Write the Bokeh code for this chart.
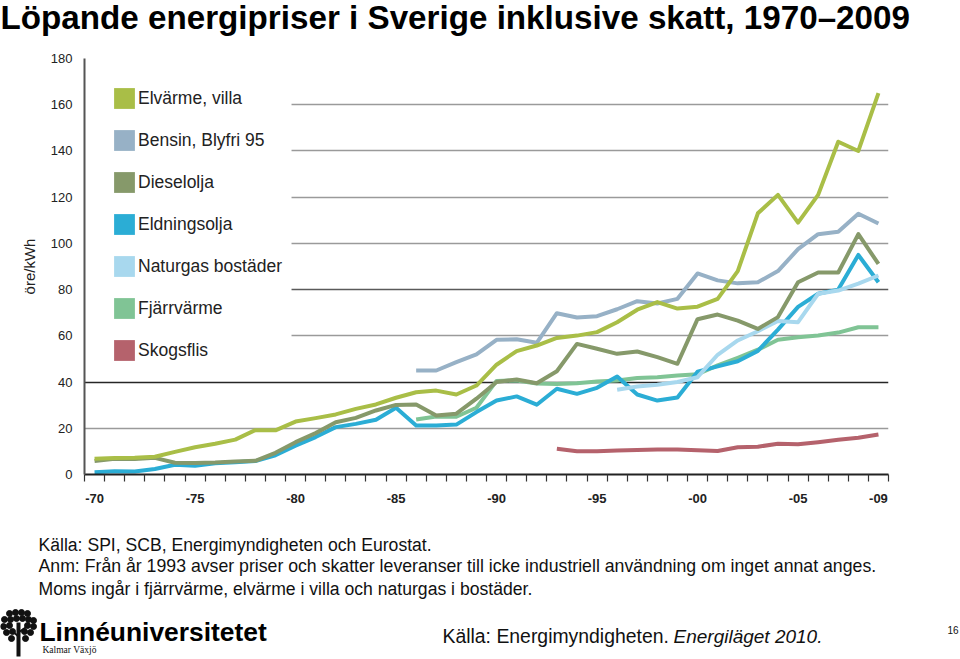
from bokeh.plotting import figure
from bokeh.layouts import column
from bokeh.models import Range1d, FixedTicker, Grid, Legend, LegendItem, BoxAnnotation
from bokeh.core.properties import value
from bokeh.embed import file_html
from bokeh.resources import INLINE

N = None
years = list(range(1970, 2010))

elvarme = [6.8, 7.1, 7.2, 7.7, 9.8, 11.8, 13.3, 15.1, 19.2, 19.1,
           22.9, 24.4, 26.0, 28.4, 30.3, 33.2, 35.6, 36.3, 34.6, 38.5,
           47.5, 53.4, 55.8, 59.1, 60.1, 61.6, 65.9, 71.3, 74.6, 71.8,
           72.6, 76.0, 88.0, 113.0, 121.0, 109.0, 121.0, 144.0, 140.0, 165.0]
bensin = [N] * 16 + [45.0, 45.0, 48.6, 52.0,
          58.3, 58.5, 57.0, 69.8, 67.9, 68.5, 71.5, 75.0, 74.0, 76.0,
          87.0, 84.0, 82.7, 83.2, 88.0, 97.5, 104.0, 105.0, 112.8, 108.6]
diesel = [5.8, 6.8, 6.7, 7.2, 5.1, 5.0, 5.2, 5.6, 5.9, 9.4,
          14.0, 17.9, 22.6, 24.5, 27.7, 30.1, 30.3, 25.5, 26.3, 32.8,
          40.0, 41.1, 39.5, 44.7, 56.5, 54.4, 52.2, 53.2, 50.8, 47.9,
          67.2, 69.2, 66.6, 63.0, 68.1, 83.2, 87.4, 87.4, 104.0, 91.1]
eldningsolja = [1.0, 1.4, 1.3, 2.4, 4.2, 3.8, 4.9, 5.3, 5.8, 8.3,
                12.5, 16.2, 20.5, 21.9, 23.7, 28.9, 21.2, 21.2, 21.6, 27.0,
                32.0, 33.8, 30.2, 37.1, 34.9, 37.5, 42.4, 34.6, 32.0, 33.3,
                44.5, 46.8, 49.0, 53.5, 62.7, 72.5, 78.2, 80.0, 95.0, 83.2]
naturgas = [N] * 26 + [36.7, 38.1, 38.8, 40.0,
            42.1, 51.8, 58.0, 62.0, 66.4, 65.9, 78.2, 79.6, 82.6, 86.1]
fjarrvarme = [N] * 16 + [23.8, 25.1, 25.0, 28.9,
              40.5, 40.7, 39.4, 39.2, 39.5, 40.2, 40.7, 41.8, 42.1, 42.8,
              43.4, 47.2, 50.5, 54.0, 58.3, 59.4, 60.1, 61.4, 63.7, 63.7]
skogsflis = [N] * 23 + [11.1, 10.1, 10.1, 10.4, 10.6, 10.8, 10.8,
             10.5, 10.2, 11.8, 12.0, 13.3, 13.1, 14.0, 15.0, 15.9, 17.3]

names = ["Elvärme, villa", "Bensin, Blyfri 95", "Dieselolja", "Eldningsolja",
         "Naturgas bostäder", "Fjärrvärme", "Skogsflis"]
series = [elvarme, bensin, diesel, eldningsolja, naturgas, fjarrvarme, skogsflis]
colors = ["#a9be47", "#97b1c6", "#86996a", "#2badd5", "#a8d8ee", "#80c495", "#b5626c"]

tick_years = [1970, 1975, 1980, 1985, 1990, 1995, 2000, 2005, 2009]
tick_labels = ["-70", "-75", "-80", "-85", "-90", "-95", "-00", "-05", "-09"]
y_ticks = [0, 20, 40, 60, 80, 100, 120, 140, 160, 180]

title_text = "Löpande energipriser i Sverige inklusive skatt, 1970–2009"
notes = ["Källa: SPI, SCB, Energimyndigheten och Eurostat.",
         "Anm: Från år 1993 avser priser och skatter leveranser till icke industriell "
         "användning om inget annat anges.",
         "Moms ingår i fjärrvärme, elvärme i villa och naturgas i bostäder."]

FONT = "Liberation Sans, Arial, Helvetica, sans-serif"
NARROW = "Liberation Sans Narrow, Arial Narrow, Liberation Sans, sans-serif"

W = 960
TOP_H = 40
BOT_H = 139
MAIN_H = 659 - TOP_H - BOT_H


def text_fig(h):
    f = figure(width=W, height=h, output_backend="svg", toolbar_location=None,
               x_range=Range1d(0, W), y_range=Range1d(h, 0),
               x_axis_location=None, y_axis_location=None, min_border=0,
               frame_align=False)
    f.outline_line_color = None
    f.xgrid.visible = False
    f.ygrid.visible = False
    f.background_fill_color = "white"
    f.border_fill_color = "white"
    return f


def put(f, x, base, txt, size, font=FONT, style="normal", color="#111111"):
    # base = wanted baseline; text is anchored at its middle
    f.text(x=[x], y=[base - 0.34 * size], text=[txt], text_font=value(font),
           text_font_size=f"{size}px", text_font_style=style, text_color=color,
           text_baseline="middle", text_align="left")


# ---- title strip
top = text_fig(TOP_H)
put(top, 0, 28, title_text, 33.2, font=NARROW, style="bold", color="#000000")

# ---- main chart
p = figure(width=W, height=MAIN_H, output_backend="svg", toolbar_location=None,
           x_range=Range1d(1969.5, 2009.5), y_range=Range1d(0, 180),
           min_border_left=84, min_border_right=72, min_border_top=58 - TOP_H,
           min_border_bottom=MAIN_H - (474 - TOP_H), frame_align=False)
p.outline_line_color = None
p.background_fill_color = "white"
p.border_fill_color = "white"

p.xgrid.visible = False
p.ygrid.ticker = FixedTicker(ticks=[20, 60, 100, 120, 140, 160])
p.ygrid.grid_line_color = "#9a9a9a"
p.ygrid.grid_line_width = 1.5
p.add_layout(Grid(dimension=1, ticker=FixedTicker(ticks=[40]), grid_line_color="#262626",
                  grid_line_width=1.5))
p.add_layout(Grid(dimension=1, ticker=FixedTicker(ticks=[80, 180]),
                  grid_line_color="#5a5a5a", grid_line_width=1.5))

# white panel behind the legend (the gridlines stop at the legend's text)
p.add_layout(BoxAnnotation(left=1969.5, right=1979.8, bottom=45, top=174,
                           fill_color="white", fill_alpha=1.0, line_color=None,
                           level="glyph"))

xa = p.xaxis[0]
xa.ticker = FixedTicker(ticks=tick_years, minor_ticks=[1969.5 + i for i in range(41)])
xa.major_label_overrides = {y: l for y, l in zip(tick_years, tick_labels)}
xa.major_tick_in = 0
xa.major_tick_out = 0
xa.minor_tick_in = 0
xa.minor_tick_out = 7
xa.minor_tick_line_color = "#333333"
xa.minor_tick_line_width = 1.2
xa.axis_line_color = "#222222"
xa.axis_line_width = 2
xa.major_label_standoff = 12
xa.major_label_text_font = FONT
xa.major_label_text_font_size = "13px"
xa.major_label_text_font_style = "bold"
xa.major_label_text_color = "#222222"

ya = p.yaxis[0]
ya.ticker = FixedTicker(ticks=y_ticks)
ya.major_tick_in = 0
ya.major_tick_out = 0
ya.minor_tick_in = 0
ya.minor_tick_out = 0
ya.axis_line_color = "#555555"
ya.axis_line_width = 2
ya.major_label_standoff = 12
ya.major_label_text_font = FONT
ya.major_label_text_font_size = "13px"
ya.major_label_text_color = "#222222"
ya.axis_label = "öre/kWh"
ya.axis_label_text_font = FONT
ya.axis_label_text_font_size = "15px"
ya.axis_label_text_font_style = "normal"
ya.axis_label_text_color = "#222222"
ya.axis_label_standoff = 10

order = [6, 5, 3, 4, 2, 1, 0]
for i in order:
    vals = [float("nan") if v is None else v for v in series[i]]
    p.line(years, vals, line_color=colors[i], line_width=4, line_join="round")

# legend swatches: zero-area quads (invisible in the plot), drawn only as legend glyphs
items = []
for name, c in zip(names, colors):
    r = p.quad(left=[years[0]], right=[years[0]], top=[0], bottom=[0],
               fill_color=c, line_color=None)
    items.append(LegendItem(label=name, renderers=[r]))

legend = Legend(items=items, location="top_left", margin=27, padding=0,
                glyph_width=26, glyph_height=26, label_height=26, spacing=16,
                label_standoff=1, label_text_font=FONT, label_text_font_size="17.5px",
                label_text_color="#222222", background_fill_alpha=0.0,
                border_line_color=None)
p.add_layout(legend)

# ---- bottom strip
bot = text_fig(BOT_H)
B0 = 659 - BOT_H
put(bot, 38, 550 - B0, notes[0], 17.6)
put(bot, 38, 572 - B0, notes[1], 17.7)
put(bot, 38, 594 - B0, notes[2], 17.6)

# university logo: small tree of dots + wordmark
tree_x = [9, 15, 21, 27, 4, 10, 16, 22, 28, 33, 3, 9, 27, 33, 6, 12, 24, 30, 11, 25]
tree_y = [613, 612, 612, 613, 619, 619, 618, 618, 619, 620, 626, 625, 625, 626,
          632, 631, 631, 632, 638, 638]
bot.scatter(tree_x, [y - B0 for y in tree_y], size=6, color="#111111")
bot.segment(x0=[18], y0=[622 - B0], x1=[18], y1=[656 - B0], line_width=4,
            line_color="#111111")
bot.segment(x0=[18, 18], y0=[636 - B0, 632 - B0], x1=[11, 25], y1=[630 - B0, 627 - B0],
            line_width=2, line_color="#111111")
put(bot, 39, 640 - B0, "Linnéuniversitetet", 26.4, font=NARROW, style="bold",
    color="#000000")
put(bot, 42, 653 - B0, "Kalmar Växjö", 9.5, font="Liberation Serif, serif")

put(bot, 442, 642 - B0, "Källa: Energimyndigheten.", 19.4)
put(bot, 673, 642 - B0, "Energiläget 2010.", 19.0, style="italic")
put(bot, 947, 633 - B0, "16", 10)

layout = column(top, p, bot, spacing=0)
open("out.html", "w").write(file_html(layout, INLINE))
